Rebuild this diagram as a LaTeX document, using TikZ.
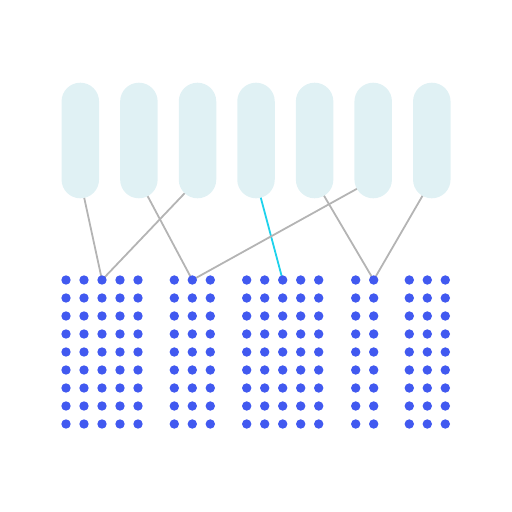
\documentclass[tikz,border=0pt]{standalone}
\usetikzlibrary{backgrounds}
\definecolor{pillc}{HTML}{E0F1F4}
\definecolor{dotc}{HTML}{4159F0}
\definecolor{linec}{HTML}{B4B4B4}
\definecolor{cyanc}{HTML}{1ED2EC}
\begin{document}
\begin{tikzpicture}[x=1pt,y=-1pt,
  pill/.style={fill=pillc,draw=none,minimum width=37.5pt,minimum height=115.6pt,rounded corners=18.7pt,inner sep=0pt},
  dotn/.style={circle,fill=dotc,draw=none,minimum size=9.4pt,inner sep=0pt},
  conn/.style={draw=linec,line width=1.8pt},
  hconn/.style={draw=cyanc,line width=1.8pt}]
\useasboundingbox (0,0) rectangle (512,512);
\foreach \x [count=\i] in {80.3,138.9,197.5,256,314.6,373.2,431.8}
  \node[pill] (p\i) at (\x,140.5) {};
\foreach \x [count=\i] in {66,84,102,120,138,174.3,192.3,210.3,246.7,264.7,282.7,300.7,318.7,355.7,373.7,409.3,427.3,445.3}
  \foreach \y [count=\j] in {280,298,...,424}
    \node[dotn] (d\i r\j) at (\x,\y) {};
\begin{pgfonlayer}{background}
\draw[conn] ([yshift=18.75pt]p1.south) -- (d3r1.center);
\draw[conn] ([yshift=18.75pt]p2.south) -- (d7r1.center);
\draw[conn] ([yshift=18.75pt]p3.south) -- (d3r1.center);
\draw[hconn] ([yshift=18.75pt]p4.south) -- (d11r1.center);
\draw[conn] ([yshift=18.75pt]p5.south) -- (d15r1.center);
\draw[conn] ([yshift=18.75pt]p6.south) -- (d7r1.center);
\draw[conn] ([yshift=18.75pt]p7.south) -- (d15r1.center);
\end{pgfonlayer}
\end{tikzpicture}
\end{document}
